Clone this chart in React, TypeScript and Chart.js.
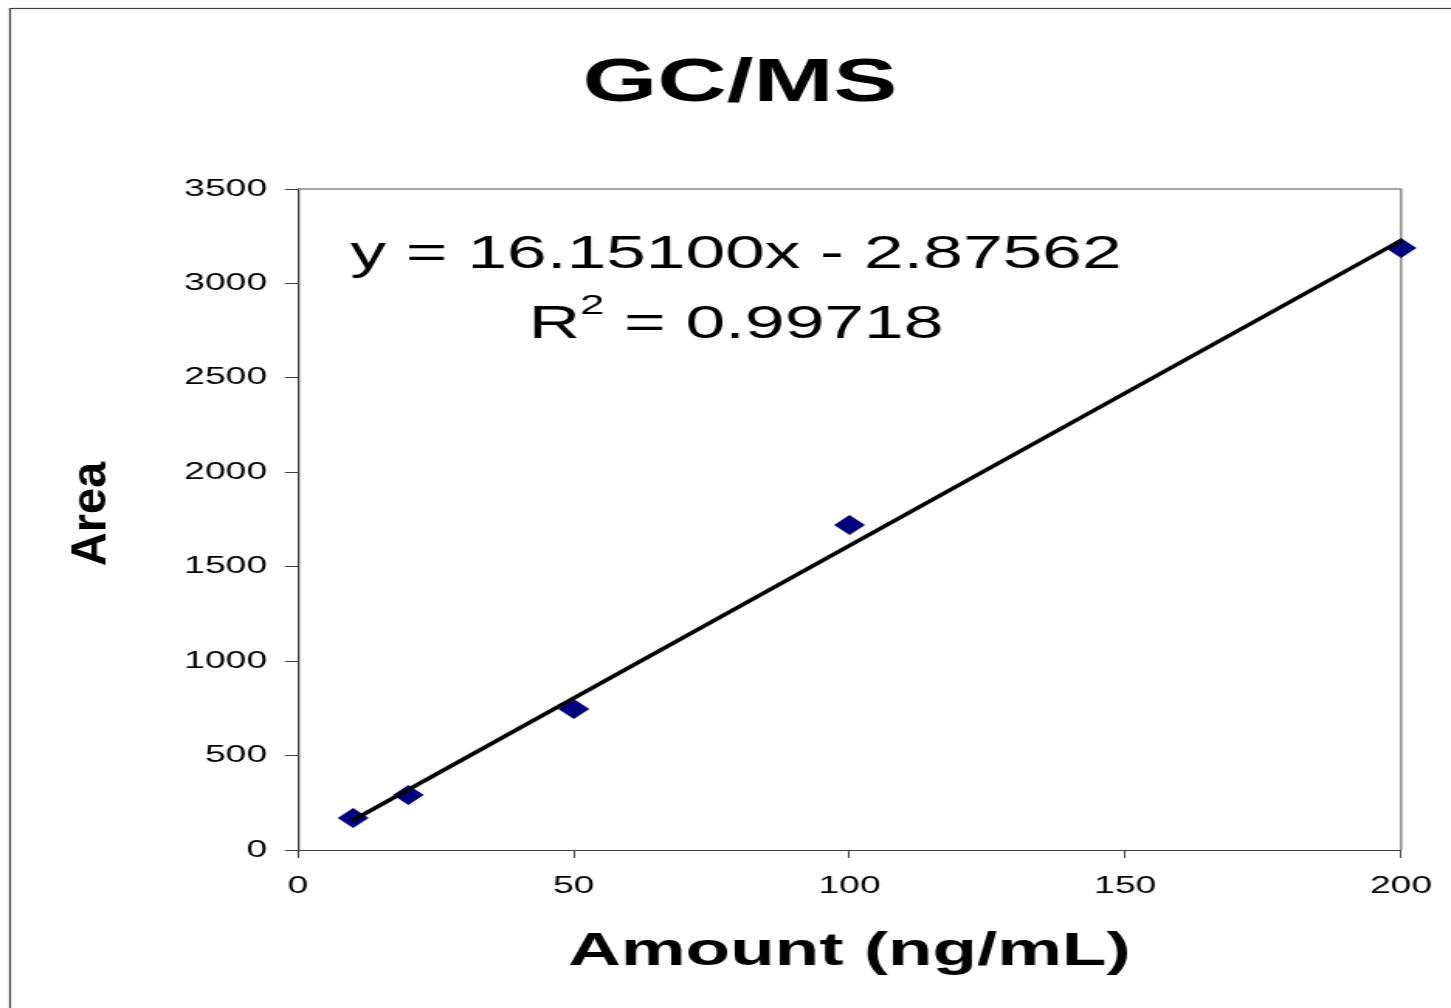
import React, { useEffect, useRef } from "react";
import { Chart, registerables } from "chart.js";

Chart.register(...registerables);

// ---- data ----
const amounts = [10, 20, 50, 100, 200];
const areas = [169, 291, 747, 1721, 3187];
const trendX = [10, 200];
const trendY = [158.6, 3227.3];
const xMin = 0;
const xMax = 200;
const xStep = 50;
const yMin = 0;
const yMax = 3500;
const yStep = 500;
const titleText = "GC/MS";
const xTitle = "Amount (ng/mL)";
const yTitle = "Area";
const eqLine = "y = 16.15100x - 2.87562";
const r2Label = "R";
const r2Sup = "2";
const r2Value = " = 0.99718";

// ---- layout (the whole drawing is stretched horizontally like the reference) ----
const STRETCH = 1.55;
const CSS_W = 1451;
const CSS_H = 1008;
const W = Math.round(CSS_W / STRETCH);
const H = CSS_H;
const SX = CSS_W / W;
const FONT = '"Liberation Sans", Arial, sans-serif';

const decorPlugin = {
  id: "decor",
  beforeDraw(chart: any) {
    const ctx = chart.ctx;
    ctx.save();
    ctx.fillStyle = "#ffffff";
    ctx.fillRect(0, 0, chart.width, chart.height);
    ctx.strokeStyle = "#404040";
    ctx.lineWidth = 1.2;
    ctx.strokeRect(10 / SX, 8.5, chart.width + 20, chart.height + 20);
    ctx.restore();
  },
  beforeDatasetsDraw(chart: any) {
    const ctx = chart.ctx;
    const a = chart.chartArea;
    ctx.save();
    ctx.strokeStyle = "#8c8c8c";
    ctx.lineWidth = 1.6;
    ctx.beginPath();
    ctx.moveTo(a.left, a.top);
    ctx.lineTo(a.right, a.top);
    ctx.lineTo(a.right, a.bottom);
    ctx.stroke();
    ctx.restore();
  },
  afterDraw(chart: any) {
    const ctx = chart.ctx;
    const a = chart.chartArea;
    ctx.save();
    ctx.fillStyle = "#000000";
    ctx.textBaseline = "alphabetic";

    // title
    ctx.textAlign = "center";
    ctx.font = `bold 62px ${FONT}`;
    ctx.fillText(titleText, 740 / SX, 101);

    // equation
    const cx = 736 / SX;
    ctx.font = `46px ${FONT}`;
    ctx.fillText(eqLine, cx, 268);

    // R^2 line
    ctx.textAlign = "left";
    ctx.font = `46px ${FONT}`;
    const wR = ctx.measureText(r2Label).width;
    const wV = ctx.measureText(r2Value).width;
    ctx.font = `28px ${FONT}`;
    const wS = ctx.measureText(r2Sup).width;
    let x = cx - (wR + wS + wV) / 2;
    ctx.font = `46px ${FONT}`;
    ctx.fillText(r2Label, x, 338);
    x += wR;
    ctx.font = `28px ${FONT}`;
    ctx.fillText(r2Sup, x, 314);
    x += wS;
    ctx.font = `46px ${FONT}`;
    ctx.fillText(r2Value, x, 338);

    // x axis title
    ctx.textAlign = "center";
    ctx.font = `bold 47px ${FONT}`;
    ctx.fillText(xTitle, (a.left + a.right) / 2, 965);

    // y axis title
    ctx.translate(92 / SX, 514);
    ctx.rotate(-Math.PI / 2);
    ctx.scale(1, 0.68);
    ctx.textBaseline = "middle";
    ctx.font = `bold 47px ${FONT}`;
    ctx.fillText(yTitle, 0, 0);
    ctx.restore();
  },
};

export default function App() {
  const ref = useRef<HTMLCanvasElement | null>(null);

  useEffect(() => {
    if (!ref.current) return;
    const chart = new Chart(ref.current, {
      type: "scatter",
      data: {
        datasets: [
          {
            type: "line",
            label: "Trend",
            data: trendX.map((v, i) => ({ x: v, y: trendY[i] })),
            borderColor: "#000000",
            borderWidth: 3.5,
            pointRadius: 0,
            fill: false,
            clip: false,
            order: 0,
          } as any,
          {
            label: "Area",
            data: amounts.map((v, i) => ({ x: v, y: areas[i] })),
            pointStyle: "rectRot",
            pointRadius: 10,
            pointBackgroundColor: "#000080",
            pointBorderColor: "#000080",
            pointBorderWidth: 0,
            clip: false,
            order: 1,
          } as any,
        ],
      },
      options: {
        responsive: false,
        devicePixelRatio: 1,
        animation: false,
        layout: {
          padding: { left: 0, right: W - 1401 / SX, top: 189, bottom: 0 },
        },
        plugins: {
          legend: { display: false },
          tooltip: { enabled: false },
          title: { display: false },
        },
        scales: {
          x: {
            type: "linear",
            min: xMin,
            max: xMax,
            ticks: {
              stepSize: xStep,
              padding: 14,
              color: "#000000",
              font: { family: FONT, size: 24 },
              callback: (v: any) => String(v),
            },
            grid: {
              drawOnChartArea: false,
              drawTicks: true,
              tickLength: 8,
              color: "#404040",
              tickColor: "#404040",
            },
            border: { display: true, color: "#404040", width: 1 },
            afterFit(scale: any) {
              scale.height = H - 850;
              scale.paddingLeft = 0;
              scale.paddingRight = 0;
            },
          },
          y: {
            type: "linear",
            min: yMin,
            max: yMax,
            ticks: {
              stepSize: yStep,
              padding: 11.5,
              color: "#000000",
              font: { family: FONT, size: 24 },
              callback: (v: any) => String(v),
            },
            grid: {
              drawOnChartArea: false,
              drawTicks: true,
              tickLength: 8.5,
              color: "#404040",
              tickColor: "#404040",
            },
            border: { display: true, color: "#404040", width: 1.3 },
            afterFit(scale: any) {
              scale.width = 298 / SX;
              scale.paddingTop = 0;
              scale.paddingBottom = 0;
            },
          },
        },
      },
      plugins: [decorPlugin],
    });
    return () => chart.destroy();
  }, []);

  return (
    <div style={{ position: "fixed", left: 0, top: 0, width: CSS_W, height: CSS_H, background: "#fff" }}>
      <canvas
        ref={ref}
        width={W}
        height={H}
        style={{ width: `${CSS_W}px`, height: `${CSS_H}px`, display: "block" }}
      />
    </div>
  );
}
